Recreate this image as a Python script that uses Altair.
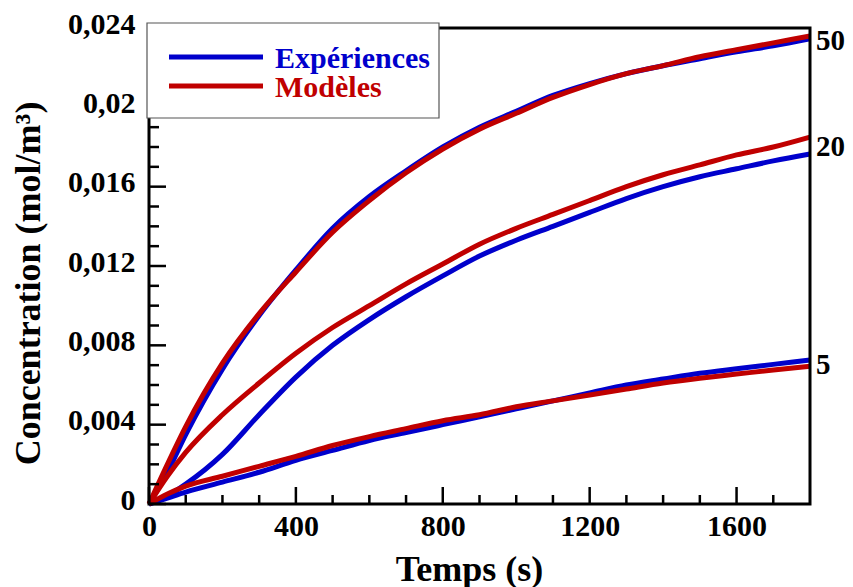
import altair as alt
import pandas as pd

# ---------------- data ----------------
time_s = [0, 50, 100, 200, 300, 400, 500, 600, 700, 800, 900,
          1000, 1100, 1200, 1300, 1400, 1500, 1600, 1700, 1800]

exp_50 = [0, 0.0016, 0.0035, 0.0068, 0.0095, 0.0118, 0.0139, 0.0155, 0.0168, 0.0180,
          0.0190, 0.0198, 0.0206, 0.0212, 0.0217, 0.0221, 0.02245, 0.0228, 0.0231, 0.02345]
mod_50 = [0, 0.0020, 0.0039, 0.0071, 0.0096, 0.0117, 0.0137, 0.0153, 0.0167, 0.0179,
          0.0189, 0.0197, 0.0205, 0.02115, 0.0217, 0.0221, 0.02255, 0.0229, 0.02325, 0.0236]

exp_20 = [0, 0.0004, 0.0010, 0.0025, 0.0045, 0.0064, 0.0080, 0.0093, 0.01045, 0.0115,
          0.0125, 0.0133, 0.0140, 0.0147, 0.0154, 0.0160, 0.0165, 0.0169, 0.0173, 0.01765]
mod_20 = [0, 0.0014, 0.0026, 0.0045, 0.0061, 0.0076, 0.0089, 0.0100, 0.0111, 0.0121,
          0.0131, 0.0139, 0.0146, 0.0153, 0.0160, 0.0166, 0.0171, 0.0176, 0.0180, 0.0185]

exp_5 = [0, 0.0003, 0.0006, 0.0011, 0.0016, 0.0022, 0.0027, 0.0032, 0.0036, 0.0040,
         0.0044, 0.0048, 0.0052, 0.0056, 0.0060, 0.0063, 0.00659, 0.00682, 0.00704, 0.00726]
mod_5 = [0, 0.0005, 0.0009, 0.0014, 0.0019, 0.0024, 0.00295, 0.0034, 0.0038, 0.0042,
         0.0045, 0.0049, 0.0052, 0.0055, 0.0058, 0.0061, 0.00634, 0.00655, 0.00676, 0.00694]

curve_names = ["50", "20", "5"]
curve_label_values = [0.0234, 0.01805, 0.00706]

legend_labels = ["Expériences", "Modèles"]

x_major = [0, 400, 800, 1200, 1600]
x_minor = [100, 200, 300, 500, 600, 700, 900, 1000, 1100, 1300, 1400, 1500, 1700]
y_major = [0, 0.004, 0.008, 0.012, 0.016, 0.02, 0.024]
y_minor = [0.001, 0.002, 0.003, 0.005, 0.006, 0.007, 0.009, 0.010, 0.011, 0.013,
           0.014, 0.015, 0.017, 0.018, 0.019, 0.021, 0.022, 0.023]

# ---------------- styling ----------------
FONT = "Liberation Serif"
BLUE = "#0000cc"
RED = "#c00000"
W, H = 661, 476

def series_df(pairs, serie):
    rows = []
    for name, vals in pairs:
        for t, v in zip(time_s, vals):
            rows.append({"t": t, "c": v, "curve": name, "serie": serie})
    return pd.DataFrame(rows)

exp_df = series_df(zip(curve_names, [exp_50, exp_20, exp_5]), legend_labels[0])
mod_df = series_df(zip(curve_names, [mod_50, mod_20, mod_5]), legend_labels[1])

xs = alt.Scale(domain=[0, 1800], nice=False, zero=False)
ys = alt.Scale(domain=[0, 0.024], nice=False, zero=False)

x_axis = alt.Axis(values=x_major, format="d", ticks=False, tickSize=0, domain=False, grid=False,
                  labelFont=FONT, labelFontSize=30, labelFontWeight="bold", labelColor="black",
                  labelPadding=7, labelFlush=False,
                  title="Temps (s)", titleFont=FONT, titleFontSize=36, titleFontWeight="bold",
                  titleColor="black", titleX=320, titleY=65, titleAlign="center",
                  titleBaseline="middle", titleAngle=0)
y_axis = alt.Axis(values=y_major, ticks=False, tickSize=0, domain=False, grid=False,
                  labelExpr="replace(format(datum.value, '~g'), '.', ',')",
                  labelFont=FONT, labelFontSize=30, labelFontWeight="bold", labelColor="black",
                  labelPadding=14, labelOffset=-4, labelFlush=False,
                  title="Concentration (mol/m³)", titleFont=FONT, titleFontSize=36,
                  titleFontWeight="bold", titleColor="black", titleX=-121, titleY=255,
                  titleAngle=-90, titleAlign="center", titleBaseline="middle")

X = alt.X("t:Q", scale=xs, axis=x_axis)
Y = alt.Y("c:Q", scale=ys, axis=y_axis)

exp_lines = alt.Chart(exp_df).mark_line(strokeWidth=5, color=BLUE, interpolate="monotone").encode(
    x=X, y=Y, detail="curve:N")
mod_lines = alt.Chart(mod_df).mark_line(strokeWidth=5, color=RED, interpolate="monotone").encode(
    x=X, y=Y, detail="curve:N")

# inward ticks
xmaj = alt.Chart(pd.DataFrame({"t": x_major})).mark_rule(color="black", strokeWidth=2.5).encode(
    x=X, y=alt.value(H), y2=alt.value(H - 17))
xmin = alt.Chart(pd.DataFrame({"t": x_minor})).mark_rule(color="black", strokeWidth=2.5).encode(
    x=X, y=alt.value(H), y2=alt.value(H - 9))
ymaj = alt.Chart(pd.DataFrame({"c": y_major})).mark_rule(color="black", strokeWidth=2.5).encode(
    y=Y, x=alt.value(0), x2=alt.value(17))
ymin = alt.Chart(pd.DataFrame({"c": y_minor})).mark_rule(color="black", strokeWidth=2.5).encode(
    y=Y, x=alt.value(0), x2=alt.value(10))

# curve labels at right
lab_df = pd.DataFrame({"t": [1800] * 3, "c": curve_label_values, "name": curve_names})
labels = alt.Chart(lab_df).mark_text(align="left", baseline="alphabetic", dx=6, dy=10,
                                     font=FONT, fontSize=29, fontWeight="bold",
                                     color="black").encode(x=X, y=Y, text="name:N")

one = pd.DataFrame({"k": [0]})
# plot frame
frame = alt.Chart(one).mark_rect(fill="transparent", stroke="black", strokeWidth=3).encode(
    x=alt.value(0), x2=alt.value(W), y=alt.value(0), y2=alt.value(H))

# legend box
leg_box = alt.Chart(one).mark_rect(fill="white", stroke="#555555", strokeWidth=1.2).encode(
    x=alt.value(-2), x2=alt.value(290), y=alt.value(-5), y2=alt.value(90))
leg_l1 = alt.Chart(one).mark_rule(color=BLUE, strokeWidth=5).encode(
    x=alt.value(20), x2=alt.value(114), y=alt.value(29))
leg_l2 = alt.Chart(one).mark_rule(color=RED, strokeWidth=5).encode(
    x=alt.value(20), x2=alt.value(114), y=alt.value(58))
leg_t1 = alt.Chart(one).mark_text(text=legend_labels[0], align="left", baseline="alphabetic",
                                  font=FONT, fontSize=30, fontWeight="bold", color=BLUE).encode(
    x=alt.value(126), y=alt.value(40))
leg_t2 = alt.Chart(one).mark_text(text=legend_labels[1], align="left", baseline="alphabetic",
                                  font=FONT, fontSize=30, fontWeight="bold", color=RED).encode(
    x=alt.value(126), y=alt.value(69))

chart = alt.layer(
    exp_lines, mod_lines, xmaj, xmin, ymaj, ymin, frame, labels,
    leg_box, leg_l1, leg_l2, leg_t1, leg_t2
).properties(
    width=W, height=H,
    autosize=alt.AutoSizeParams(type="none"),
    padding={"left": 141, "top": 20, "right": 35, "bottom": 83},
).configure_view(
    strokeWidth=0
).configure(background="white")

chart.save("out.html", embed_options={"renderer": "svg", "actions": False})
